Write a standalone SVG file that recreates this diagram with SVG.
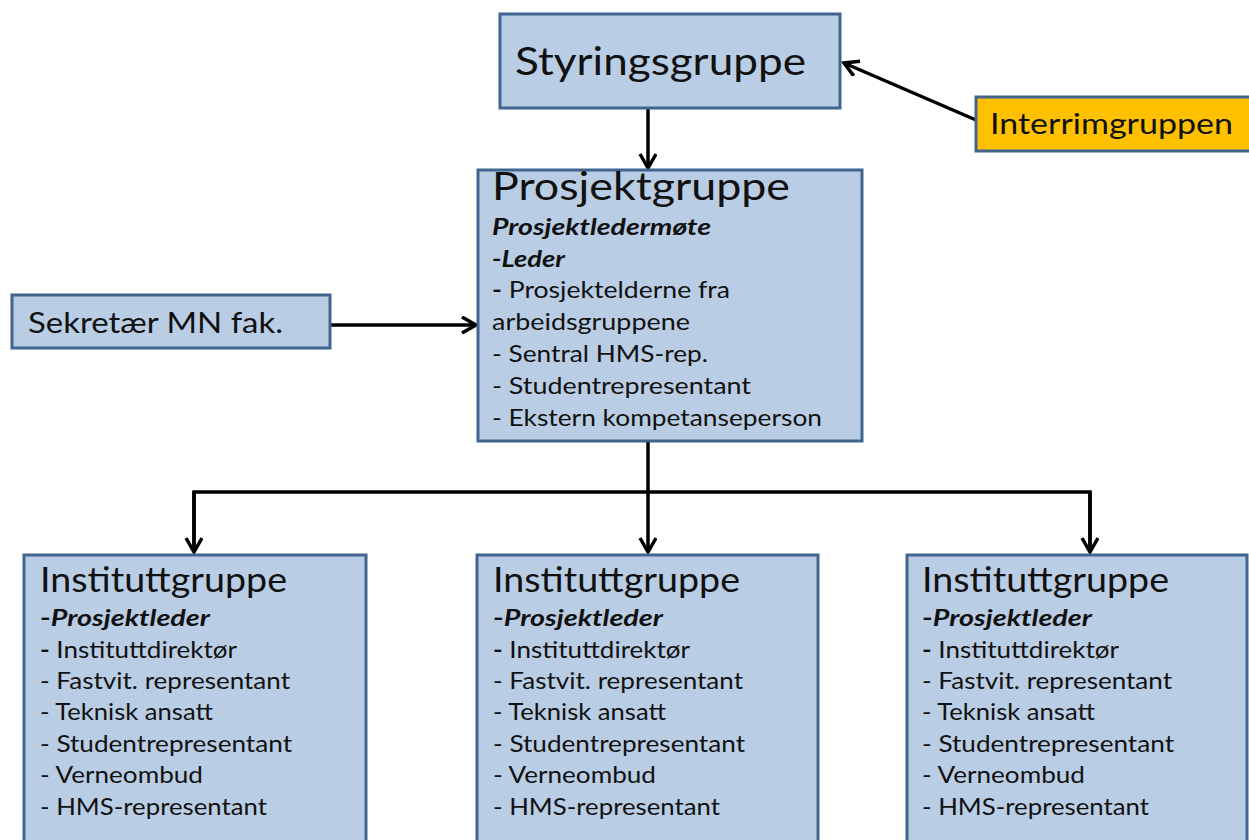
<svg xmlns="http://www.w3.org/2000/svg" width="1249" height="840" viewBox="0 0 1249 840">
<style>
.box{fill:#b9cde5;stroke:#41658f;stroke-width:3}
.ora{fill:#ffc000;stroke:#41658f;stroke-width:3}
text{font-family:Lato,"Open Sans","Liberation Sans",sans-serif;fill:#111}
.t{font-size:23.5px}
.b{font-size:22px;font-weight:bold}
.bi{font-size:22px;font-weight:bold;font-style:italic}
.h{font-size:34px}
.conn{stroke:#000;stroke-width:3.5;fill:none}
</style>
<defs>
<marker id="arr" markerUnits="userSpaceOnUse" markerWidth="20" markerHeight="20" refX="16" refY="9" orient="auto">
<path d="M2,1 L16,9 L2,17" fill="none" stroke="#000" stroke-width="3.5"/>
</marker>
</defs>
<rect width="1249" height="840" fill="#fff"/>
<g id="connectors">
<line class="conn" x1="648" y1="108" x2="648" y2="168" marker-end="url(#arr)"/>
<line class="conn" x1="976" y1="120" x2="844" y2="63" marker-end="url(#arr)"/>
<line class="conn" x1="330" y1="325" x2="476" y2="325" marker-end="url(#arr)"/>
<line class="conn" x1="648" y1="441" x2="648" y2="552" marker-end="url(#arr)"/>
<polyline class="conn" points="194,552 194,492 1090,492 1090,552"/>
<line class="conn" x1="194" y1="492" x2="194" y2="552" marker-end="url(#arr)"/>
<line class="conn" x1="1090" y1="492" x2="1090" y2="552" marker-end="url(#arr)"/>
</g>
<g id="styringsgruppe">
<rect class="box" x="500" y="14" width="340" height="94"/>
<text x="515" y="75" style="font-size:39px" textLength="291" lengthAdjust="spacingAndGlyphs">Styringsgruppe</text>
</g>
<g id="interrimgruppen">
<rect class="ora" x="976" y="97" width="290" height="54"/>
<text x="990" y="134" style="font-size:28px" textLength="243" lengthAdjust="spacingAndGlyphs">Interrimgruppen</text>
</g>
<g id="sekretaer">
<rect class="box" x="12" y="295" width="318" height="53"/>
<text x="28" y="333" style="font-size:28px" textLength="255" lengthAdjust="spacingAndGlyphs">Sekretær MN fak.</text>
</g>
<g id="prosjektgruppe">
<rect class="box" x="478" y="170" width="384" height="271"/>
<text x="492" y="200" style="font-size:39px" textLength="298" lengthAdjust="spacingAndGlyphs">Prosjektgruppe</text>
<text class="bi" x="492" y="235" textLength="219" lengthAdjust="spacingAndGlyphs">Prosjektledermøte</text>
<text class="bi" x="492" y="267" textLength="73" lengthAdjust="spacingAndGlyphs">-Leder</text>
<text class="t" x="492" y="298" textLength="238" lengthAdjust="spacingAndGlyphs"><tspan font-weight="bold">-</tspan>  Prosjektelderne fra</text>
<text class="t" x="492" y="330" textLength="198" lengthAdjust="spacingAndGlyphs">arbeidsgruppene</text>
<text class="t" x="492" y="362" textLength="216" lengthAdjust="spacingAndGlyphs">-  Sentral HMS-rep.</text>
<text class="t" x="492" y="394" textLength="259" lengthAdjust="spacingAndGlyphs">-  Studentrepresentant</text>
<text class="t" x="492" y="426" textLength="330" lengthAdjust="spacingAndGlyphs">-  Ekstern kompetanseperson</text>
</g>
<g id="institutt1">
<rect class="box" x="24" y="555" width="342" height="300"/>
<text class="h" x="40" y="592" textLength="247" lengthAdjust="spacingAndGlyphs">Instituttgruppe</text>
<text class="b" x="40" y="626" textLength="170" lengthAdjust="spacingAndGlyphs">-<tspan font-style="italic">Prosjektleder</tspan></text>
<text class="t" x="40" y="658" textLength="197" lengthAdjust="spacingAndGlyphs"><tspan font-weight="bold">-</tspan> Instituttdirektør</text>
<text class="t" x="40" y="689" textLength="250" lengthAdjust="spacingAndGlyphs">- Fastvit. representant</text>
<text class="t" x="40" y="720" textLength="173" lengthAdjust="spacingAndGlyphs">- Teknisk ansatt</text>
<text class="t" x="40" y="752" textLength="252" lengthAdjust="spacingAndGlyphs">- Studentrepresentant</text>
<text class="t" x="40" y="783" textLength="163" lengthAdjust="spacingAndGlyphs">- Verneombud</text>
<text class="t" x="40" y="815" textLength="227" lengthAdjust="spacingAndGlyphs">- HMS-representant</text>
</g>
<g id="institutt2">
<rect class="box" x="477" y="555" width="341" height="300"/>
<text class="h" x="493" y="592" textLength="247" lengthAdjust="spacingAndGlyphs">Instituttgruppe</text>
<text class="b" x="493" y="626" textLength="170" lengthAdjust="spacingAndGlyphs">-<tspan font-style="italic">Prosjektleder</tspan></text>
<text class="t" x="493" y="658" textLength="197" lengthAdjust="spacingAndGlyphs"><tspan font-weight="bold">-</tspan> Instituttdirektør</text>
<text class="t" x="493" y="689" textLength="250" lengthAdjust="spacingAndGlyphs">- Fastvit. representant</text>
<text class="t" x="493" y="720" textLength="173" lengthAdjust="spacingAndGlyphs">- Teknisk ansatt</text>
<text class="t" x="493" y="752" textLength="252" lengthAdjust="spacingAndGlyphs">- Studentrepresentant</text>
<text class="t" x="493" y="783" textLength="163" lengthAdjust="spacingAndGlyphs">- Verneombud</text>
<text class="t" x="493" y="815" textLength="227" lengthAdjust="spacingAndGlyphs">- HMS-representant</text>
</g>
<g id="institutt3">
<rect class="box" x="907" y="555" width="340" height="300"/>
<text class="h" x="922" y="592" textLength="247" lengthAdjust="spacingAndGlyphs">Instituttgruppe</text>
<text class="b" x="922" y="626" textLength="170" lengthAdjust="spacingAndGlyphs">-<tspan font-style="italic">Prosjektleder</tspan></text>
<text class="t" x="922" y="658" textLength="197" lengthAdjust="spacingAndGlyphs"><tspan font-weight="bold">-</tspan> Instituttdirektør</text>
<text class="t" x="922" y="689" textLength="250" lengthAdjust="spacingAndGlyphs">- Fastvit. representant</text>
<text class="t" x="922" y="720" textLength="173" lengthAdjust="spacingAndGlyphs">- Teknisk ansatt</text>
<text class="t" x="922" y="752" textLength="252" lengthAdjust="spacingAndGlyphs">- Studentrepresentant</text>
<text class="t" x="922" y="783" textLength="163" lengthAdjust="spacingAndGlyphs">- Verneombud</text>
<text class="t" x="922" y="815" textLength="227" lengthAdjust="spacingAndGlyphs">- HMS-representant</text>
</g>
</svg>
